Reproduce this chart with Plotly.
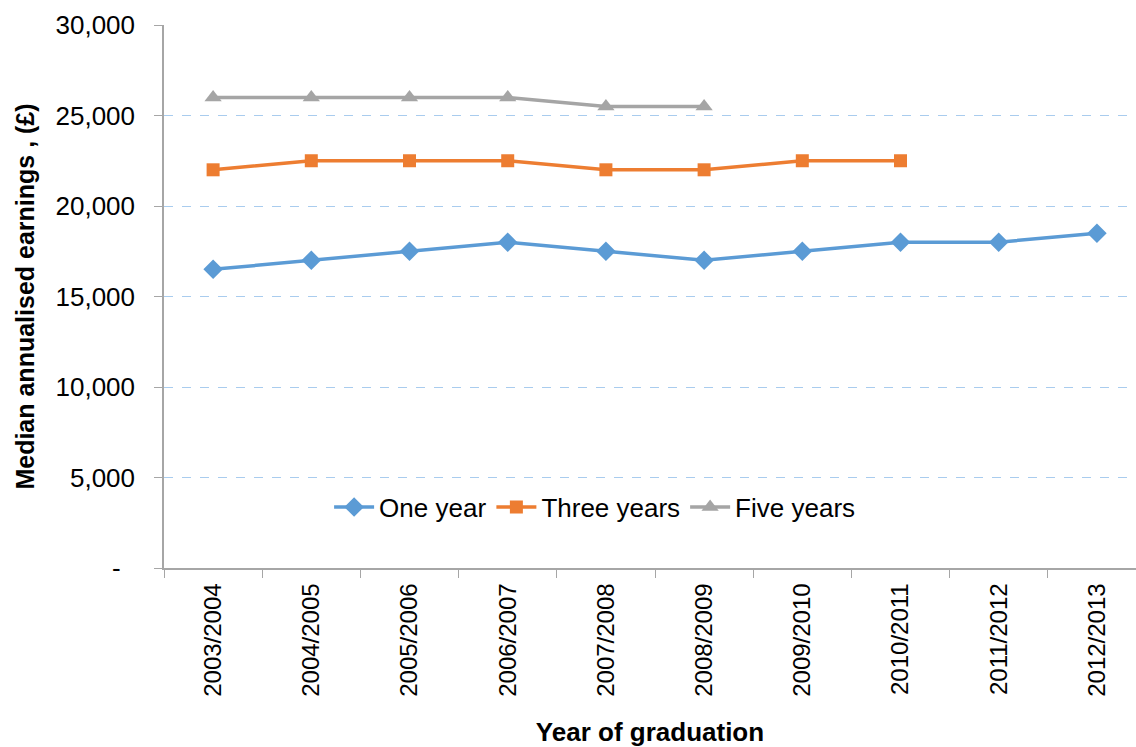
import plotly.graph_objects as go

years = ["2003/2004", "2004/2005", "2005/2006", "2006/2007", "2007/2008",
         "2008/2009", "2009/2010", "2010/2011", "2011/2012", "2012/2013"]
one_year = [16500, 17000, 17500, 18000, 17500, 17000, 17500, 18000, 18000, 18500]
three_years = [22000, 22500, 22500, 22500, 22000, 22000, 22500, 22500]
five_years = [26000, 26000, 26000, 26000, 25500, 25500]

y_tickvals = [0, 5000, 10000, 15000, 20000, 25000, 30000]
y_ticktext = ["-\u00a0\u00a0", "5,000", "10,000", "15,000", "20,000", "25,000", "30,000"]

FONT = "Liberation Sans, Arial, sans-serif"

fig = go.Figure()
fig.add_trace(go.Scatter(
    x=years, y=one_year, name="One year", mode="lines+markers",
    line=dict(color="#5B9BD5", width=3.5),
    marker=dict(symbol="diamond", size=15, color="#5B9BD5"),
))
fig.add_trace(go.Scatter(
    x=years[:len(three_years)], y=three_years, name="Three years", mode="lines+markers",
    line=dict(color="#ED7D31", width=3.5),
    marker=dict(symbol="square", size=13, color="#ED7D31"),
))
fig.add_trace(go.Scatter(
    x=years[:len(five_years)], y=five_years, name="Five years", mode="lines+markers",
    line=dict(color="#A5A5A5", width=3.5),
    marker=dict(symbol="triangle-up", size=15, color="#A5A5A5"),
))

fig.update_layout(
    width=1136, height=747,
    margin=dict(l=164, r=0, t=25, b=179),
    paper_bgcolor="white", plot_bgcolor="white",
    font=dict(family=FONT, color="black"),
    showlegend=True,
    legend=dict(
        orientation="h", x=0.443, xanchor="center", y=0.112, yanchor="middle",
        font=dict(size=26, family=FONT), bgcolor="rgba(0,0,0,0)",
        itemwidth=40, tracegroupgap=0,
    ),
    xaxis=dict(
        type="category", categoryorder="array", categoryarray=years,
        range=[-0.5, 9.398],
        tickson="boundaries", ticks="outside", ticklen=8, tickcolor="#A6A6A6",
        tickangle=-90, tickfont=dict(size=24, family=FONT), ticklabelstandoff=4,
        showline=True, linecolor="#A6A6A6", linewidth=1.5,
        showgrid=False, zeroline=False,
        title=dict(text="<b>Year of graduation</b>", font=dict(size=26, family=FONT), standoff=28),
    ),
    yaxis=dict(
        range=[0, 30000], tickvals=y_tickvals, ticktext=y_ticktext,
        ticks="outside", ticklen=8, tickcolor="#A6A6A6",
        tickfont=dict(size=26, family=FONT), ticklabelstandoff=14,
        showline=True, linecolor="#A6A6A6", linewidth=1.5,
        showgrid=True, gridcolor="#A9CCEE", griddash="dash", gridwidth=1,
        zeroline=False,
        title=dict(text="<b>Median annualised earnings , (£)</b>", font=dict(size=25, family=FONT), standoff=14),
    ),
)

fig.write_html("out.html")
